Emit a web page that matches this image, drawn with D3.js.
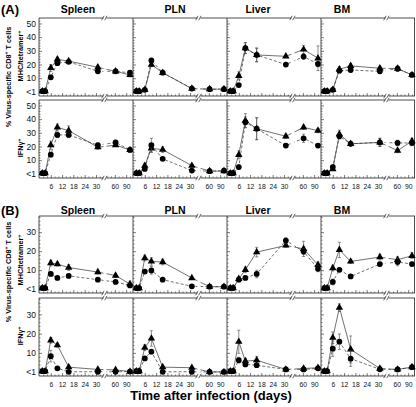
<!DOCTYPE html>
<html><head><meta charset="utf-8">
<script src="https://cdn.jsdelivr.net/npm/d3@7"></script>
<style>body{margin:0;background:#fff}text{font-family:"Liberation Sans",Arial,sans-serif}</style>
</head><body>
<script>
// ---------- DATA ----------
const organs = ["Spleen","PLN","Liver","BM"];
const days = [1.5, 3, 6, 9.5, 15.5, 31, 62, 100];
const seg1Major = [6,12,18,24,30];
const seg2Major = [60,90];
const yTicksA = [0,10,20,30,40,50];
const yTicksB = [0,10,20,30];

// Panel A, MHC/tetramer+ (rows = organs)
const aTetTri = [[0.5,0.5,17.5,23.8,22.5,18,15,12.4],[0.5,0.5,1.5,20,14,2.4,2,2],[0.5,0.5,11.7,32,27,26,31,24.6],[0.5,0.5,1.5,16.5,19,17.3,17,12.4]];
const aTetTriE = [[0,0,2.5,1.5,1,1.5,1,1.5],[0,0,0.5,1.5,1,0.5,0.5,0.5],[0,0,3,4,5,1,3,9],[0,0,0.5,2,1.5,1.5,2,1]];
const aTetCir = [[0.5,0.5,10.7,21,22,15,15,14],[0.5,0.5,1.5,23,14,2.4,2,2],[0.5,0.5,5,32,27,20,25.8,20.4],[0.5,0.5,1.5,15.5,16,15,17,12.4]];
const aTetCirE = [[0,0,1.5,1.5,1,1,1,1.5],[0,0,0.5,1.5,1,0.5,0.5,0.5],[0,0,1,4,5,1,2,2],[0,0,0.5,1.5,1.5,1.5,1.5,1]];
// Panel A, IFNg+
const aIfnTri = [[0.5,0.5,21,34,31.6,19.5,21,17.5],[0.5,0.5,6,18.7,17.7,6,2,2],[0.5,0.5,14,39,33,27.5,34,31.6],[0.5,0.5,3.5,29,22,23,17,24]];
const aIfnTriE = [[0,0,3,2.5,3.5,1.5,1,1.5],[0,0,1.5,3,2,1,0.5,0.5],[0,0,3,5,8,1.5,1.5,1.5],[0,0,1,3,1.5,3,1.5,2]];
const aIfnCir = [[0.5,0.5,14,28.5,28.5,21,23,17.5],[0.5,0.5,3.6,21,11,2.4,2,2.4],[0.5,0.5,5,37.7,33,20.7,26,20.7],[0.5,0.5,5,27.5,22,23,22.6,22.6]];
const aIfnCirE = [[0,0,1.5,2,2,1.5,1.5,1.5],[0,0,1,5,1,0.5,0.5,0.5],[0,0,1.5,4,8,1.5,3,1.5],[0,0,1.5,2,1.5,3,2,2]];
// Panel B, MHC/tetramer+
const bTetTri = [[0.6,0.6,13.7,13.2,11.4,9,7.2,2.7],[0.6,0.6,16.4,14.6,14.3,5.9,1.3,1.3],[0.6,0.6,5.5,10.2,19.5,23,21.2,12.8],[0.6,0.6,11.1,20.7,14.6,16.9,15.5,17.6]];
const bTetTriE = [[0,0,1.5,1,1.5,1,1,1.5],[0,0,1.5,2,1.5,0.5,0.5,0.5],[0,0,1,1.5,2.5,1,4,1.5],[0,0,1.5,4,1,1.5,1.5,1.5]];
const bTetCir = [[0.6,0.6,8,5.9,7,5,3.8,2],[0.6,0.6,9.3,9.9,5,1.5,1.3,1.3],[0.6,0.6,5,5.9,8,25.6,19.8,10.7],[0.6,0.6,3.8,10.2,6.7,13.2,14.3,13.2]];
const bTetCirE = [[0,0,1,0.5,1,0.5,0.5,0.5],[0,0,1,2,0.5,0.5,0.5,0.5],[0,0,1,1,2,1.5,1.5,1.5],[0,0,1.5,1,1,1,2,1]];
// Panel B, IFNg+
const bIfnTri = [[0.5,0.5,16.5,14,2.6,1.4,1.2,0.3],[0.5,0.5,12.7,17.5,2.6,2.3,0.1,0.1],[0.5,0.5,15.8,5.7,6.2,1.4,1.9,2.3],[0.5,0.5,17.9,33.5,11.8,1.9,1.4,2.6]];
const bIfnTriE = [[0,0,1.5,1,0.5,0.5,0.5,0.5],[0,0,1.5,4,0.5,0.5,0.5,0.5],[0,0,6,1.5,2,0.5,0.5,0.5],[0,0,3,2,7,1,0.5,0.5]];
const bIfnCir = [[0.5,0.5,8.3,2,0.2,0.2,0.2,0.3],[0.5,0.5,7.1,10.6,0.2,0.2,0.1,0.1],[0.5,0.5,6.2,4,3.6,1.4,1.4,2],[0.5,0.5,12.2,15.8,7,1.5,1.4,2.6]];
const bIfnCirE = [[0,0,3,0.5,0.5,0.5,0.5,0.5],[0,0,1,1,0.5,0.5,0.5,0.5],[0,0,1.5,1,1,0.5,0.5,0.5],[0,0,4,4,4,1,0.5,0.5]];

// ---------- LAYOUT ----------
const W = 416, H = 407;
const colX = [39,133,227,321], colW = 94;
const titleX = [78,175,258,342];
const seg1End = 64.5, seg2Start = 67.5;

const panels = [
  {label:"(A)", labelY:14, titleY:13, yDom:[-3,54], yTicks:yTicksA, yTitleC:77, mhcC:56, ifnC:148,
   rows:[{top:18,bot:96,tri:aTetTri,triE:aTetTriE,cir:aTetCir,cirE:aTetCirE},
         {top:100,bot:178,tri:aIfnTri,triE:aIfnTriE,cir:aIfnCir,cirE:aIfnCirE}]},
  {label:"(B)", labelY:215, titleY:214, yDom:[-2,38.5], yTicks:yTicksB, yTitleC:272, mhcC:260, ifnC:336,
   rows:[{top:216,bot:293,tri:bTetTri,triE:bTetTriE,cir:bTetCir,cirE:bTetCirE},
         {top:298,bot:376,tri:bIfnTri,triE:bIfnTriE,cir:bIfnCir,cirE:bIfnCirE}]}
];

const svg = d3.select("body").append("svg").attr("width",W).attr("height",H);
const defs = svg.append("defs");
let clipId = 0;

function brk(g, x, y){
  g.append("line").attr("x1",x-1.8).attr("y1",y+2.2).attr("x2",x+0.6).attr("y2",y-2.2)
   .attr("stroke","#222").attr("stroke-width",0.7);
}

panels.forEach((P, pi) => {
  svg.append("text").attr("x",1).attr("y",P.labelY).attr("font-size",13).attr("font-weight","bold").text(P.label);
  organs.forEach((o,ci)=>{
    svg.append("text").attr("x",titleX[ci]).attr("y",P.titleY).attr("text-anchor","middle")
      .attr("font-size",10.5).attr("font-weight","bold").text(o);
  });
  // y titles
  const yt = svg.append("text").attr("transform",`translate(10.5,${P.yTitleC}) rotate(-90)`)
    .attr("text-anchor","middle").attr("font-size",7.3).attr("font-weight","bold");
  yt.append("tspan").text("% Virus-specific CD8");
  yt.append("tspan").attr("dy",-2.5).attr("font-size",5).text("+");
  yt.append("tspan").attr("dy",2.5).text(" T cells");
  const mt = svg.append("text").attr("transform",`translate(23,${P.mhcC}) rotate(-90)`)
    .attr("text-anchor","middle").attr("font-size",7.3).attr("font-weight","bold");
  mt.append("tspan").text("MHC/tetramer");
  mt.append("tspan").attr("dy",-2.5).attr("font-size",5).text("+");
  const it = svg.append("text").attr("transform",`translate(23,${P.ifnC}) rotate(-90)`)
    .attr("text-anchor","middle").attr("font-size",7.3).attr("font-weight","bold");
  it.append("tspan").text("IFNγ");
  it.append("tspan").attr("dy",-2.5).attr("font-size",5).text("+");

  P.rows.forEach((R, ri) => {
    const y = d3.scaleLinear().domain(P.yDom).range([R.bot, R.top]);
    const yMinor = d3.range(2, P.yDom[1], 2).filter(v => v % 10 !== 0);
    colX.forEach((x0, ci) => {
      const g = svg.append("g");
      const x1 = d3.scaleLinear().domain([0,34]).range([x0+0.5, x0+seg1End]);
      const x2 = d3.scaleLinear().domain([38,108]).range([x0+seg2Start, x0+colW]);
      const xp = d => d <= 34 ? x1(d) : x2(d);

      const segs = [[x0, x0+seg1End],[x0+seg2Start, x0+colW]];
      [R.top, R.bot].forEach(yy => {
        segs.forEach(s => g.append("line").attr("x1",s[0]).attr("x2",s[1]).attr("y1",yy).attr("y2",yy)
          .attr("stroke","#222").attr("stroke-width",0.8));
        brk(g, x0+seg1End, yy); brk(g, x0+seg2Start, yy);
      });
      g.append("line").attr("x1",x0).attr("x2",x0).attr("y1",R.top).attr("y2",R.bot)
        .attr("stroke","#222").attr("stroke-width",0.8);
      if (ci === 3) g.append("line").attr("x1",x0+colW-0.5).attr("x2",x0+colW-0.5).attr("y1",R.top).attr("y2",R.bot)
        .attr("stroke","#222").attr("stroke-width",0.8);

      const ya = g.append("g").attr("transform",`translate(${x0},0)`)
        .call(d3.axisLeft(y).tickValues(P.yTicks).tickSize(-3).tickPadding(3)
          .tickFormat(v => ci === 0 ? (v === 0 ? "<1" : v) : ""));
      ya.select(".domain").remove();
      ya.selectAll("text").attr("font-size",8.5).attr("fill","#111").attr("font-family","Liberation Sans, Arial, sans-serif");
      ya.selectAll("line").attr("stroke","#222").attr("stroke-width",0.6);
      const ym = g.append("g").attr("transform",`translate(${x0},0)`)
        .call(d3.axisLeft(y).tickValues(yMinor).tickSize(-1.6).tickFormat(""));
      ym.select(".domain").remove();
      ym.selectAll("line").attr("stroke","#222").attr("stroke-width",0.5);

      const showLab = ri === 1;
      [[x1, seg1Major, d3.range(2,34,2).filter(v=>!seg1Major.includes(v))],
       [x2, seg2Major, [40,50,70,80,100]]].forEach(([sc, maj, mnr]) => {
        const xa = g.append("g").attr("transform",`translate(0,${R.bot})`)
          .call(d3.axisBottom(sc).tickValues(maj).tickSize(-3).tickPadding(6)
            .tickFormat(v => showLab ? v : ""));
        xa.select(".domain").remove();
        xa.selectAll("text").attr("font-size",6.8).attr("fill","#111").attr("font-family","Liberation Sans, Arial, sans-serif");
        xa.selectAll("line").attr("stroke","#222").attr("stroke-width",0.6);
        const xm = g.append("g").attr("transform",`translate(0,${R.bot})`)
          .call(d3.axisBottom(sc).tickValues(mnr).tickSize(-1.6).tickFormat(""));
        xm.select(".domain").remove();
        xm.selectAll("line").attr("stroke","#222").attr("stroke-width",0.5);
      });

      const ids = segs.map(s => {
        const id = "c" + (clipId++);
        defs.append("clipPath").attr("id",id).append("rect")
          .attr("x",s[0]).attr("width",s[1]-s[0]).attr("y",R.top-5).attr("height",R.bot-R.top+10);
        return id;
      });

      const series = [
        {v:R.tri[ci], e:R.triE[ci], dash:null, sym:"tri"},
        {v:R.cir[ci], e:R.cirE[ci], dash:"3,2", sym:"cir"}
      ];
      const line = d3.line().x(d => xp(d[0])).y(d => y(d[1]));
      series.forEach(S => {
        const pts = days.map((d,i) => [d, S.v[i], S.e[i]]);
        ids.forEach(id => {
          g.append("path").attr("d", line(pts)).attr("fill","none").attr("stroke","#333")
            .attr("stroke-width",0.7).attr("stroke-dasharray",S.dash).attr("clip-path",`url(#${id})`);
        });
      });
      series.forEach(S => {
        const pts = days.map((d,i) => [d, S.v[i], S.e[i]]);
        pts.filter(p => p[2] > 0.6).forEach(p => {
          const cx = xp(p[0]), yt = y(p[1]+p[2]), yb = y(Math.max(p[1]-p[2], P.yDom[0]+0.5));
          g.append("line").attr("x1",cx).attr("x2",cx).attr("y1",yt).attr("y2",yb).attr("stroke","#444").attr("stroke-width",0.6);
          [yt,yb].forEach(yy => g.append("line").attr("x1",cx-1.5).attr("x2",cx+1.5).attr("y1",yy).attr("y2",yy)
            .attr("stroke","#444").attr("stroke-width",0.6));
        });
        g.selectAll(null).data(pts).enter().append("path")
          .attr("transform", d => `translate(${xp(d[0])},${y(d[1])})`)
          .attr("d", S.sym === "tri" ? d3.symbol(d3.symbolTriangle, 24)() : d3.symbol(d3.symbolCircle, 26)())
          .attr("fill","#000");
      });
    });
  });
});

svg.append("text").attr("x",211).attr("y",400).attr("text-anchor","middle")
  .attr("font-size",13).attr("font-weight","bold").text("Time after infection (days)");
</script>
</body></html>
